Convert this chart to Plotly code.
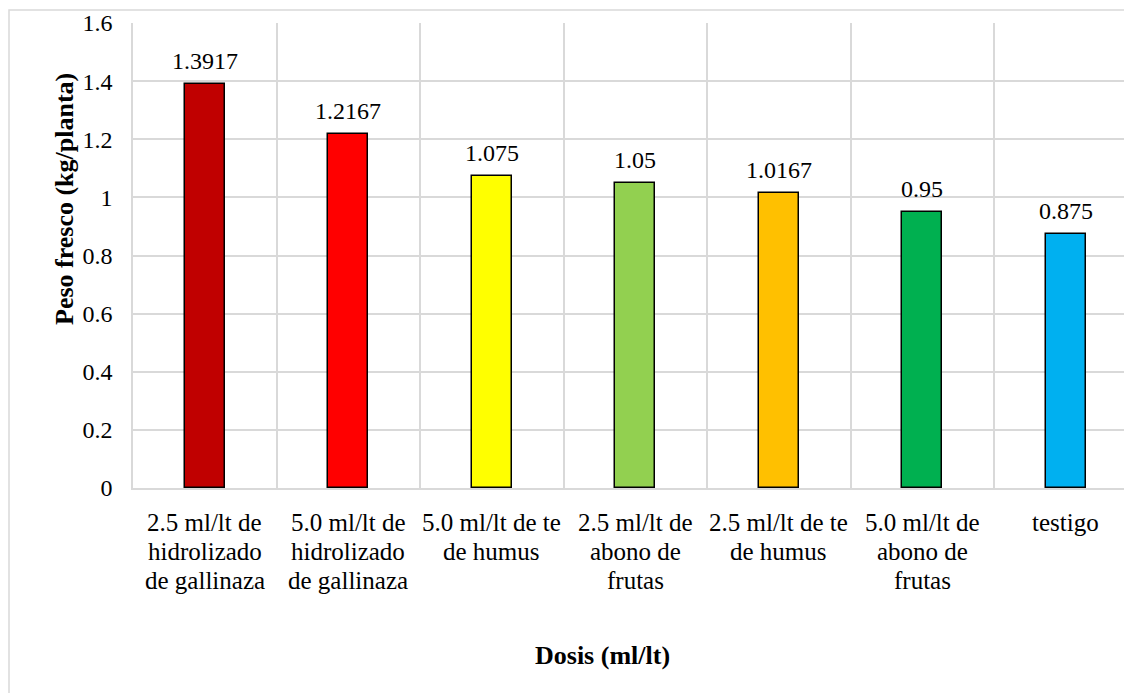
import plotly.graph_objects as go

# Fresh weight per plant for each dose treatment
categorias = [
    "2.5 ml/lt de<br>hidrolizado<br>de gallinaza",
    "5.0 ml/lt de<br>hidrolizado<br>de gallinaza",
    "5.0 ml/lt de te<br>de humus",
    "2.5 ml/lt de<br>abono de<br>frutas",
    "2.5 ml/lt de te<br>de humus",
    "5.0 ml/lt de<br>abono de<br>frutas",
    "testigo",
]
peso_fresco = [1.3917, 1.2167, 1.075, 1.05, 1.0167, 0.95, 0.875]
etiquetas = ["1.3917", "1.2167", "1.075", "1.05", "1.0167", "0.95", "0.875"]
colores = ["#C00000", "#FF0000", "#FFFF00", "#92D050", "#FFC000", "#00B050", "#00B0F0"]
y_ticks = [0, 0.2, 0.4, 0.6, 0.8, 1, 1.2, 1.4, 1.6]
y_tick_text = ["0", "0.2", "0.4", "0.6", "0.8", "1", "1.2", "1.4", "1.6"]

W, H = 1124, 693
L, R, T, B = 133, 1124, 23, 488  # plot area in pixels
FONT = "Liberation Serif"
GRID = "#d9d9d9"
BLACK = "#000000"

def px_x(p):
    return (p - L) / (R - L)

def px_y(p):
    return (B - p) / (B - T)

fig = go.Figure()
fig.add_trace(go.Bar(
    x=categorias,
    y=peso_fresco,
    width=0.28,
    marker=dict(color=colores, line=dict(color=BLACK, width=1.5)),
    hoverinfo="y",
))

# value labels above the bars
for c, v, t in zip(categorias, peso_fresco, etiquetas):
    fig.add_annotation(x=c, y=v, text=t, showarrow=False, yanchor="bottom",
                       xanchor="center", yshift=8,
                       font=dict(family=FONT, size=24, color=BLACK))

# category labels, one line at a time for tighter line spacing
line_centers = [522, 551, 580]
for c in categorias:
    for i, line in enumerate(c.split("<br>")):
        fig.add_annotation(x=c, xref="x", y=px_y(line_centers[i]), yref="paper",
                           text=line, showarrow=False, xanchor="center",
                           yanchor="middle",
                           font=dict(family=FONT, size=25, color=BLACK))

# x-axis title
fig.add_annotation(x=px_x(602), y=px_y(655), xref="paper", yref="paper",
                   xanchor="center", yanchor="middle",
                   text="<b>Dosis (ml/lt)</b>", showarrow=False,
                   font=dict(family=FONT, size=26, color=BLACK))
# y-axis title
fig.add_annotation(x=px_x(64), y=px_y(199), xref="paper", yref="paper",
                   xanchor="center", yanchor="middle",
                   text="<b>Peso fresco (kg/planta)</b>", showarrow=False, textangle=-90,
                   font=dict(family=FONT, size=26, color=BLACK))

# chart area border
fig.add_shape(type="rect", xref="paper", yref="paper",
              x0=px_x(9), x1=px_x(W + 40), y0=px_y(H + 40), y1=px_y(10),
              line=dict(color=GRID, width=1.5), fillcolor="rgba(0,0,0,0)", layer="below")

fig.update_layout(
    width=W, height=H,
    margin=dict(l=L, r=W - R, t=T, b=H - B),
    paper_bgcolor="white", plot_bgcolor="white",
    showlegend=False,
    bargap=0,
    font=dict(family=FONT, size=24, color=BLACK),
    xaxis=dict(
        range=[-0.5, -0.5 + (R - L) / 143.5],
        tickson="boundaries", showgrid=True, gridcolor=GRID, gridwidth=1.5,
        showline=True, linecolor=GRID, linewidth=1.5,
        ticks="", showticklabels=False,
        fixedrange=True,
    ),
    yaxis=dict(
        range=[0, 1.6], tickvals=y_ticks, ticktext=y_tick_text,
        showgrid=True, gridcolor=GRID, gridwidth=1.5,
        showline=True, linecolor=GRID, linewidth=1.5,
        zeroline=False, ticks="", ticklabelstandoff=14,
        tickfont=dict(family=FONT, size=24, color=BLACK),
        fixedrange=True,
    ),
)

fig.write_html("out.html", config={"displayModeBar": False})
